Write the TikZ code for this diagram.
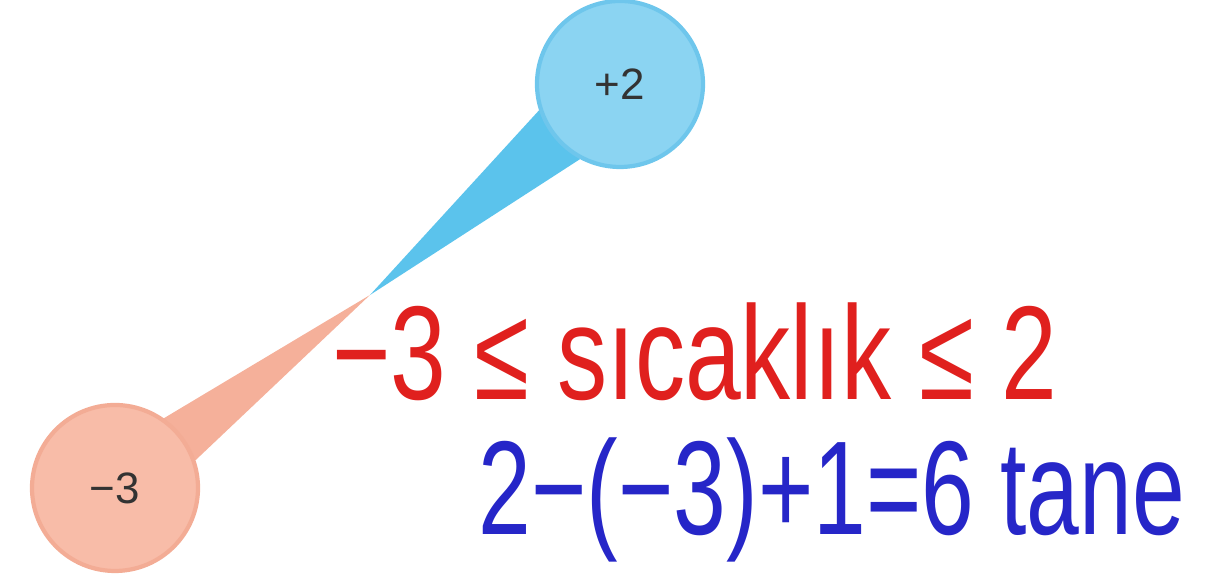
\documentclass[tikz,border=0pt]{standalone}
\usepackage{fontspec}
\setmainfont{Liberation Sans}
\usepackage{tikz}
\usetikzlibrary{positioning, backgrounds}

\definecolor{bluefill}{HTML}{8BD4F2}
\definecolor{blueline}{HTML}{6EC6EC}
\definecolor{bluewedge}{HTML}{5BC3EC}
\definecolor{pinkfill}{HTML}{F8BCA8}
\definecolor{pinkline}{HTML}{F3AC95}
\definecolor{pinkwedge}{HTML}{F5B09A}
\definecolor{redink}{HTML}{E0201E}
\definecolor{blueink}{HTML}{2626C8}

\begin{document}
\begin{tikzpicture}[
          bubble/.style={circle, line width=1.2pt, minimum size=16.6mm, inner sep=0pt,
            text=black!80, font=\fontsize{12.5}{12.5}\selectfont},
          hand/.style={anchor=base, transform shape, font=\fontsize{38}{38}\selectfont}]
          \useasboundingbox (0,0) rectangle (12.17,5.81);

          \coordinate (tip) at (3.70,2.86);
          \node[bubble, fill=bluefill, draw=blueline] (upper) at (6.20,4.97) {+2};
          \node[bubble, fill=pinkfill, draw=pinkline] (lower) at (1.15,0.93) {−3};

          % wedges behind the bubbles
          \begin{scope}[on background layer]
            \fill[pinkwedge] (tip) -- (lower.19) -- (lower.55) -- cycle;
            \fill[bluewedge] (tip) -- (upper.198) -- (upper.242) -- cycle;
          \end{scope}

          \node[hand, text=redink, xscale=0.75] (range) at (6.95,1.81) {−3 ≤ sıcaklık ≤ 2};
          \node[hand, text=blueink, xscale=0.71] (count) at (8.32,0.46) {2−(−3)+1=6 tane};
        \end{tikzpicture}
\end{document}
